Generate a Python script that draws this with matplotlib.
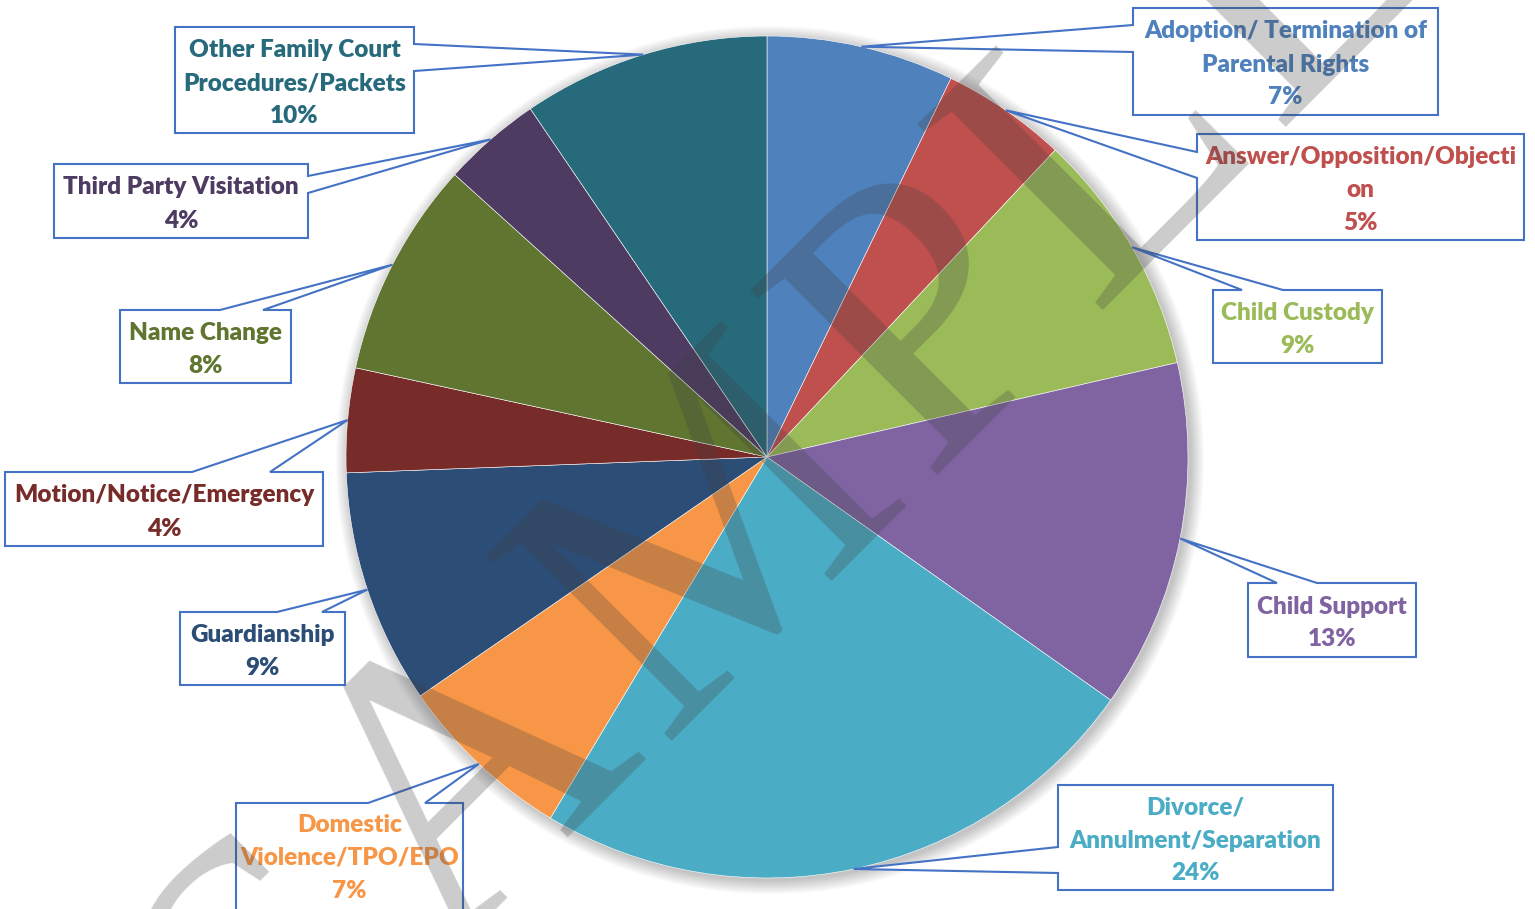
import numpy as np
import matplotlib.pyplot as plt
from matplotlib.patches import Polygon, Circle

W, H = 1535, 909

categories = ["Adoption/ Termination of Parental Rights", "Answer/Opposition/Objection",
              "Child Custody", "Child Support", "Divorce/ Annulment/Separation",
              "Domestic Violence/TPO/EPO", "Guardianship", "Motion/Notice/Emergency",
              "Name Change", "Third Party Visitation", "Other Family Court Procedures/Packets"]
values = [7.2, 4.8, 9.4, 13.4, 23.8, 6.8, 9.0, 4.0, 8.3, 3.8, 9.5]
label_lines = [["Adoption/ Termination of", "Parental Rights"],
               ["Answer/Opposition/Objecti", "on"],
               ["Child Custody"],
               ["Child Support"],
               ["Divorce/", "Annulment/Separation"],
               ["Domestic", "Violence/TPO/EPO"],
               ["Guardianship"],
               ["Motion/Notice/Emergency"],
               ["Name Change"],
               ["Third Party Visitation"],
               ["Other Family Court", "Procedures/Packets"]]
colors = ["#4F81BD", "#C0504D", "#9BBB59", "#8064A2", "#4BACC6", "#F79646",
          "#2C4D75", "#772C2A", "#5F7530", "#4D3B62", "#276A7C"]

# label boxes in pixels: (left, top, right, bottom), tail side, tail base points
boxes = [((1133, 8, 1438, 115), "left", (25, 52)),
         ((1197, 134, 1524, 240), "left", (152, 178)),
         ((1213, 290, 1382, 363), "top", (1242, 1283)),
         ((1248, 583, 1416, 657), "top", (1277, 1317)),
         ((1058, 785, 1333, 890), "left", (847, 873)),
         ((236, 803, 463, 930), "top", (368, 425)),
         ((180, 612, 345, 685), "top", (277, 322)),
         ((5, 472, 323, 546), "top", (192, 270)),
         ((120, 310, 291, 383), "top", (220, 263)),
         ((54, 164, 308, 238), "right", (176, 193)),
         ((175, 27, 414, 133), "right", (44, 71))]

# watermark letters and their Times advance widths (em units)
wm_letters = ["S", "A", "M", "P", "L", "E"]
wm_adv = [0.556, 0.722, 0.889, 0.556, 0.611, 0.611]

cx, cy, R = 767, 457, 421
box_edge = "#4472C4"

fig = plt.figure(figsize=(W / 100, H / 100), dpi=100)
ax = fig.add_axes([0, 0, 1, 1])
ax.set_xlim(0, W)
ax.set_ylim(0, H)
ax.axis('off')

# soft shadow behind the pie
for k in range(12):
    ax.add_patch(Circle((cx + 3, H - cy - 3), R + k * 1.2, color='black',
                        alpha=0.018, lw=0, zorder=0))

wedges, _ = ax.pie(values, colors=colors, startangle=90, counterclock=False,
                   center=(cx, H - cy), radius=R,
                   wedgeprops=dict(linewidth=0.4, edgecolor='white'))
ax.set_xlim(0, W)
ax.set_ylim(0, H)
ax.set_aspect('equal')

for i, w in enumerate(wedges):
    w.set_zorder(1)
    mid = np.deg2rad((w.theta1 + w.theta2) / 2)
    axp, ayp = cx + R * np.cos(mid), cy - R * np.sin(mid)
    (l, t, r, b), side, (p1, p2) = boxes[i]
    if side == "left":
        pts = [(l, t), (r, t), (r, b), (l, b), (l, p2), (axp, ayp), (l, p1)]
    elif side == "right":
        pts = [(l, t), (r, t), (r, p1), (axp, ayp), (r, p2), (r, b), (l, b)]
    else:
        pts = [(l, t), (p1, t), (axp, ayp), (p2, t), (r, t), (r, b), (l, b)]
    ax.add_patch(Polygon([(x, H - y) for x, y in pts], closed=True, facecolor='white',
                         edgecolor=box_edge, lw=1.5, zorder=3))
    lines = label_lines[i] + [f"{round(values[i])}%"]
    ymid = (t + b) / 2 + 3 if i != 5 else 858
    n = len(lines)
    for j, s in enumerate(lines):
        yy = ymid + (j - (n - 1) / 2) * 33
        ax.text((l + r) / 2, H - yy, s, ha='center', va='center', color=colors[i],
                fontsize=17.5, fontweight='heavy', family='Lato', zorder=4)

# watermark, slightly stretched along its baseline
em, stretch = 400, 1.06
wx, wy = 861, 540
cum = np.cumsum([0] + wm_adv[:-1])
total = sum(wm_adv)
for ch, c0, a in zip(wm_letters, cum, wm_adv):
    d = stretch * em * (c0 + a / 2 - total / 2)
    px, py = wx + d * np.cos(np.pi / 4), wy - d * np.sin(np.pi / 4)
    ax.text(px, H - py, ch, rotation=45, rotation_mode='anchor',
            ha='center', va='baseline', fontsize=em * 0.72, family='Liberation Serif',
            color='#404040', alpha=0.27, zorder=10)

fig.savefig("out.png", dpi=100)
